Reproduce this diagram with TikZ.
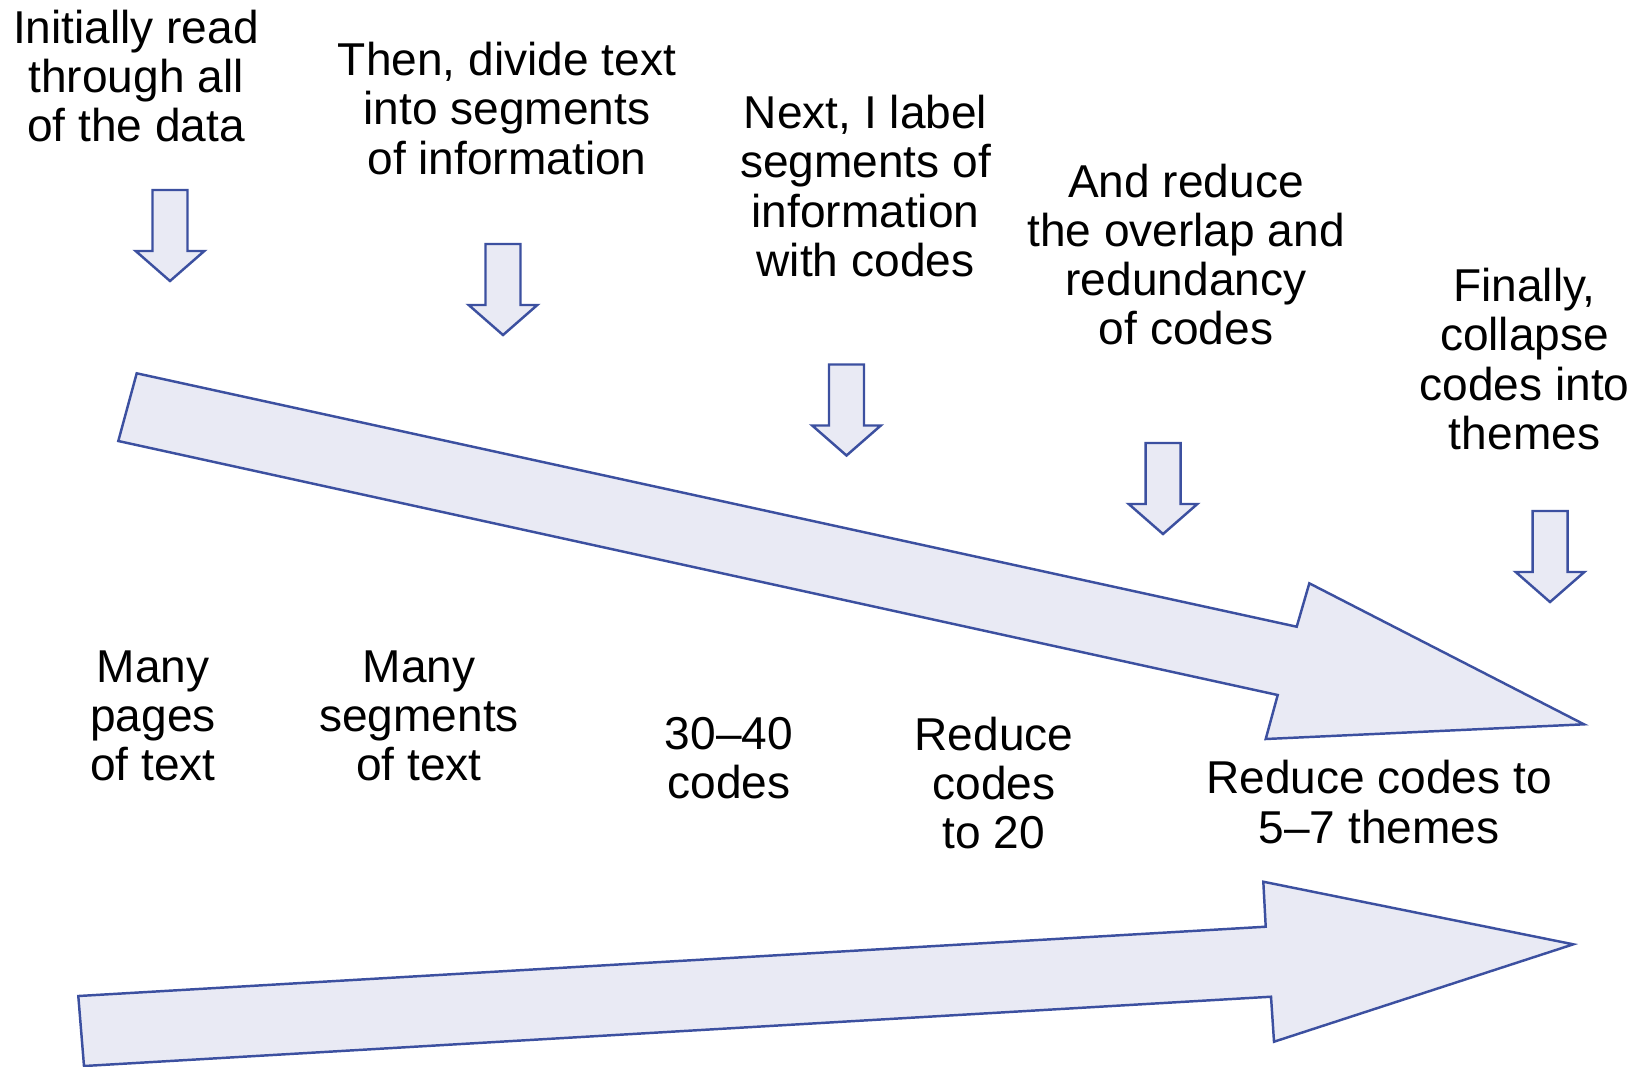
\documentclass[tikz,border=0pt]{standalone}
\usepackage{fontspec}
\setmainfont{Liberation Sans}
\definecolor{arrowfill}{RGB}{233,234,244}
\definecolor{arrowline}{RGB}{60,80,160}
\tikzset{
	arrowbody/.style = {fill=arrowfill, draw=arrowline, line width=0.7pt, line join=miter},
	steptext/.style = {align=center, inner sep=0pt, font=\fontsize{13.1}{14}\selectfont}
}
\begin{document}
\begin{tikzpicture}[x=0.01cm, y=-0.01cm]
		\useasboundingbox (0,0) rectangle (1643,1066);

		% big arrows
		\draw[arrowbody] (136.7,373.3) -- (1296.7,626.7) -- (1309.3,583.3) -- (1584,724.3) -- (1265.7,739) -- (1277.7,695) -- (118.3,441) -- cycle;
		\draw[arrowbody] (78.3,996) -- (1265.7,926.7) -- (1263.3,881.7) -- (1573.3,944.3) -- (1274,1041.7) -- (1271,996.7) -- (84,1066) -- cycle;

		% small down arrows
		\draw[arrowbody] (152.5,190) -- ++(35,0) -- ++(0,61) -- ++(16.8,0) -- ++(-34.3,30) -- ++(-34.3,-30) -- ++(16.8,0) -- cycle;
		\draw[arrowbody] (485.5,244) -- ++(35,0) -- ++(0,61) -- ++(16.8,0) -- ++(-34.3,30) -- ++(-34.3,-30) -- ++(16.8,0) -- cycle;
		\draw[arrowbody] (829,364.5) -- ++(35,0) -- ++(0,61) -- ++(16.8,0) -- ++(-34.3,30) -- ++(-34.3,-30) -- ++(16.8,0) -- cycle;
		\draw[arrowbody] (1145.5,443) -- ++(35,0) -- ++(0,61) -- ++(16.8,0) -- ++(-34.3,30) -- ++(-34.3,-30) -- ++(16.8,0) -- cycle;
		\draw[arrowbody] (1532.5,511) -- ++(35,0) -- ++(0,61) -- ++(16.8,0) -- ++(-34.3,30) -- ++(-34.3,-30) -- ++(16.8,0) -- cycle;

		% steps
		\node[steptext] (read) at (136,76) {Initially read\\through all\\of the data};
		\node[steptext] (divide) at (507,108.5) {Then, divide text\\into segments\\of information};
		\node[steptext] (label) at (865.5,186) {Next, I label\\segments of\\information\\with codes};
		\node[steptext] (reduce) at (1186,254.5) {And reduce\\the overlap and\\redundancy\\of codes};
		\node[steptext] (collapse) at (1524.5,359) {Finally,\\collapse\\codes into\\themes};

		% results
		\node[steptext] (pages) at (153,716) {Many\\pages\\of text};
		\node[steptext] (segments) at (419,716) {Many\\segments\\of text};
		\node[steptext] (codes) at (729,758) {30--40\\codes};
		\node[steptext] (twenty) at (994,783) {Reduce\\codes\\to 20};
		\node[steptext] (themes) at (1379,802) {Reduce codes to\\5--7 themes};
	\end{tikzpicture}
\end{document}
